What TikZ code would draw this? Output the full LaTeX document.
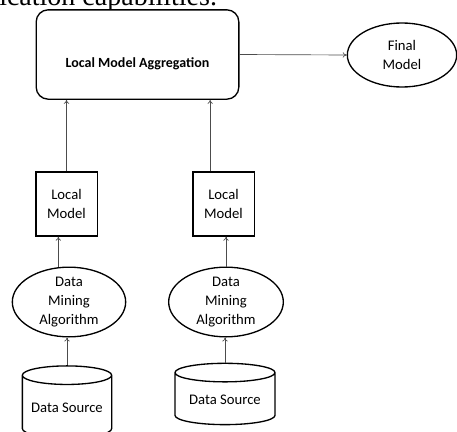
\documentclass[tikz,border=0pt]{standalone}
\usepackage{fontspec}
\setmainfont{Carlito}
\newfontfamily\bodyfont{Liberation Serif}
\usetikzlibrary{arrows.meta}
\usetikzlibrary{shapes.geometric}
\tikzset{
    block/.style={
        draw,
        line width=1pt,
        fill=white,
        align=center,
        inner sep=1pt,
        font=\fontsize{11}{14}\selectfont
    },
    oval/.style={
        block,
        ellipse
    },
    store/.style={
        block,
        cylinder,
        shape border rotate=90,
        aspect=0.25
    },
    link/.style={
        draw=black!70,
        line width=0.5pt,
        -{To[length=3pt, width=4pt]}
    }
}

\begin{document}
\begin{tikzpicture}[x=0.75pt, y=-0.75pt]
    \useasboundingbox (0,0) rectangle (457,432);

    \node[anchor=base west, font=\bodyfont\fontsize{21}{25}\selectfont, inner sep=0pt] (cap) at (-1,6) {ication capabilities.};

    \node[block, rounded corners=9pt, minimum width=152pt, minimum height=67pt, text height=19pt, text depth=0pt, font=\fontsize{10.5}{14}\selectfont\bfseries] (agg) at (137.5,54.5) {Local Model Aggregation};
    \node[oval, minimum width=82pt, minimum height=48pt, inner sep=0pt] (final) at (402,55) {Final\\Model};

    \node[block, minimum width=46pt, minimum height=48pt] (lm1) at (66.5,204) {Local\\Model};
    \node[block, minimum width=46pt, minimum height=48pt] (lm2) at (223.5,204) {Local\\Model};

    \node[oval, minimum width=85pt, minimum height=46pt, inner sep=0pt] (dma1) at (69,302) {Data\\Mining\\Algorithm};
    \node[oval, minimum width=86pt, minimum height=46pt, inner sep=0pt] (dma2) at (226,302) {Data\\Mining\\Algorithm};

    \node[store, minimum width=67pt, minimum height=54pt] (ds1) at (67,408) {Data Source};
    \node[store, minimum width=75pt, minimum height=46pt] (ds2) at (225,400) {Data Source};

    \draw[link] (agg.east) -- (final.west);
    \draw[link] (lm1.north) -- (lm1.north |- agg.south);
    \draw[link] ([xshift=-10pt]lm2.north) -- ([xshift=-10pt]lm2.north |- agg.south);
    \draw[link] ([xshift=-8pt]dma1.north) -- ([xshift=-8pt]dma1.north |- lm1.south);
    \draw[link] (dma2.north) -- (dma2.north |- lm2.south);
    \draw[link] (ds1.north) -- (ds1.north |- dma1.south);
    \draw[link] (ds2.north) -- (ds2.north |- dma2.south);
\end{tikzpicture}
\end{document}
